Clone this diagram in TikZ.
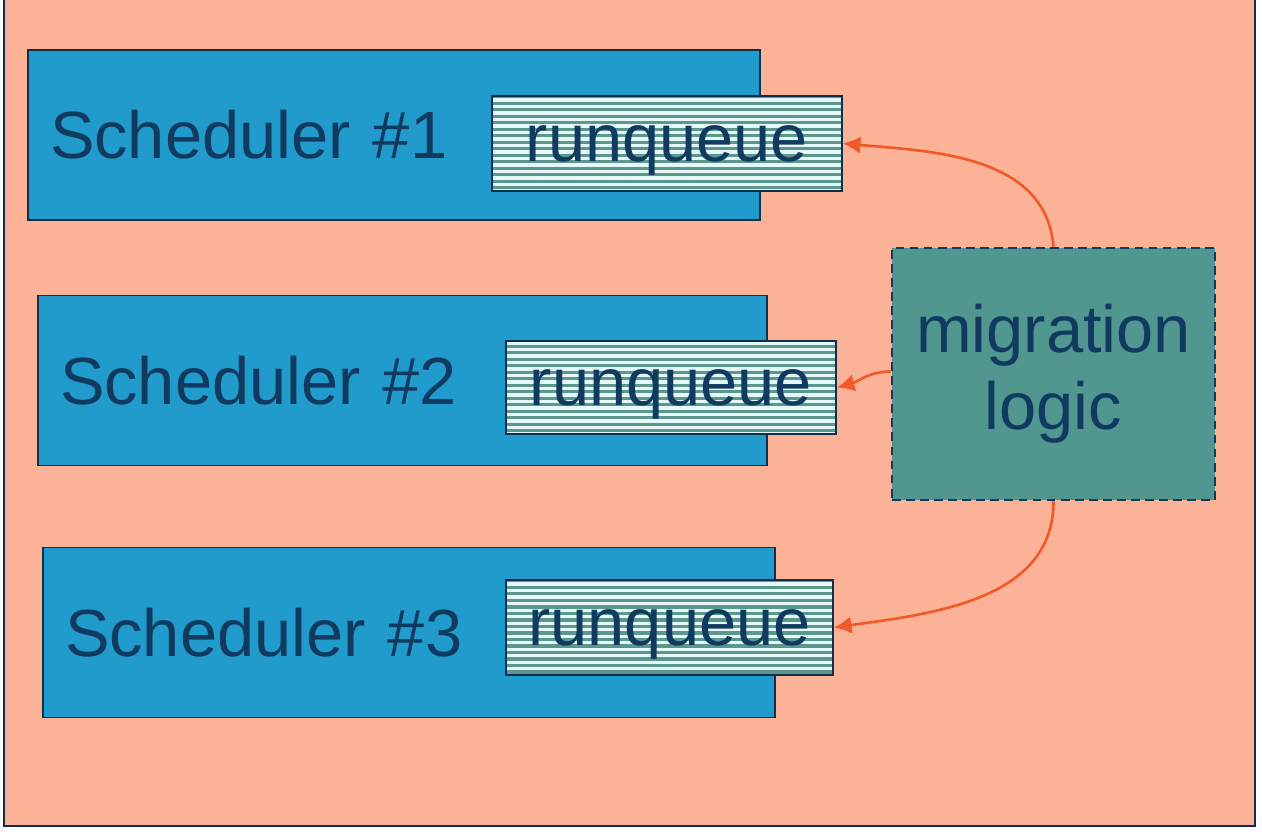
\documentclass[tikz,border=0pt]{standalone}
\usepackage{fontspec}
\setmainfont{Liberation Sans}
\usetikzlibrary{arrows,arrows.meta}
\definecolor{salmon}{RGB}{252,178,150}
\definecolor{schedblue}{RGB}{33,155,204}
\definecolor{navy}{RGB}{16,58,96}
\definecolor{migteal}{RGB}{82,150,144}
\definecolor{rqlight}{RGB}{228,248,248}
\definecolor{rqdark}{RGB}{92,150,140}
\definecolor{arrowred}{RGB}{240,90,40}
\begin{document}
\begin{tikzpicture}
							\useasboundingbox (0,0) rectangle (25.24,-16.64);
							\draw[draw=navy!80!black,line width=0.8pt,fill=salmon] (0.08,0.5) rectangle (25.1,-16.52);
							\tikzstyle{sched}=[draw=navy!80!black,line width=1pt,fill=schedblue,text=navy,minimum height=3.4cm,inner xsep=0.44cm,align=left,font=\fontsize{38}{44}\selectfont]
							\tikzstyle{rq}=[draw=navy!80!black,line width=1pt,fill=rqlight,text=navy,inner sep=0pt,text height=28pt,text depth=8pt,font=\fontsize{38}{44}\selectfont,
								path picture={\foreach \k in {0,...,15} \fill[rqdark] ([yshift=\k*0.13cm+0.03cm]path picture bounding box.south west) rectangle ++(8,0.065);}]
							\tikzstyle{migr}=[draw=navy,dash pattern=on 5pt off 3pt,line width=1.5pt,fill=migteal,text=navy,align=center,minimum width=6.46cm,minimum height=5.04cm,font=\fontsize{38}{44}\selectfont]
							\tikzstyle{push}=[-{Latex[length=10pt,width=10pt]},draw=arrowred,line width=1.5pt]
							\node[sched,text width=13.76cm] (s1) at (7.88,-2.7) {Scheduler \#1};
							\node[sched,text width=13.70cm] (s2) at (8.05,-7.61) {Scheduler \#2};
							\node[sched,text width=13.76cm] (s3) at (8.18,-12.65) {Scheduler \#3};
							\node[rq,minimum width=7.0cm,minimum height=1.9cm] (rq1) at (13.34,-2.87) {runqueue};
							\node[rq,minimum width=6.6cm,minimum height=1.86cm] (rq2) at (13.42,-7.75) {runqueue};
							\node[rq,minimum width=6.54cm,minimum height=1.9cm] (rq3) at (13.39,-12.55) {runqueue};
							\node[migr] (mig) at (21.07,-7.48) {migration\\logic};
							\draw[push] (mig.north) to[out=95,in=-5] (rq1.east);
							\draw[push] ([yshift=0.05cm]mig.west) to[out=180,in=15] (rq2.east);
							\draw[push] (mig.south) to[out=-90,in=8] (rq3.east);
							\end{tikzpicture}
\end{document}
